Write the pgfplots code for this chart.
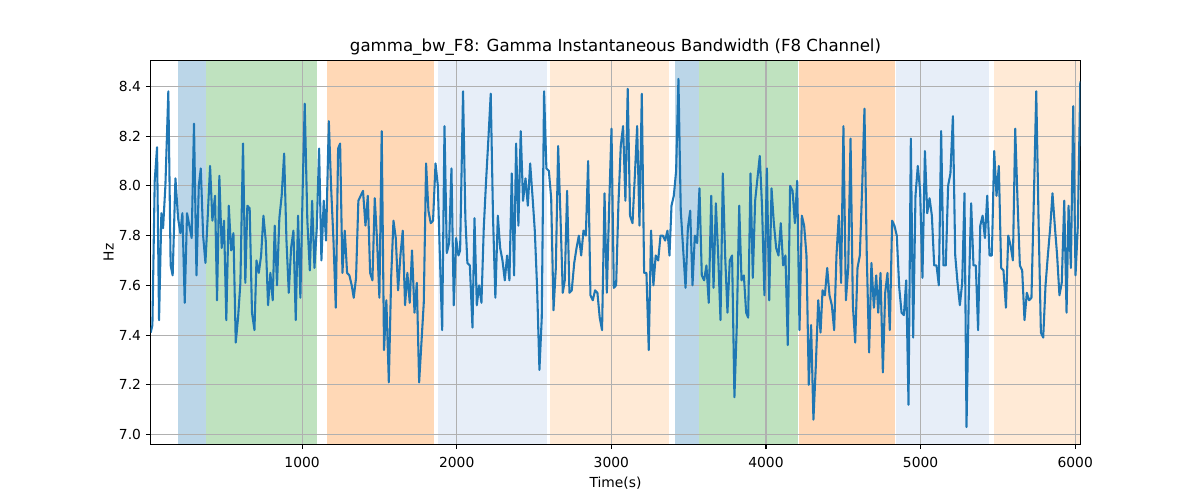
\documentclass[border=0pt]{standalone}
\usepackage{pgfplots}
\pgfplotsset{compat=1.18}
\usepackage{fontspec}
\setmainfont{DejaVu Sans}
\definecolor{cblue}{HTML}{1F77B4}
\definecolor{cgreen}{HTML}{2CA02C}
\definecolor{corange}{HTML}{FF7F0E}
\definecolor{clblue}{HTML}{AEC7E8}
\definecolor{clorange}{HTML}{FFBB78}
\definecolor{gridgray}{HTML}{B0B0B0}
\pgfplotsset{span/.style={draw=none, fill opacity=0.3, forget plot, on layer=axis background}}
\begin{document}
\begin{tikzpicture}
\path (0,0) rectangle (12in,5in);
\begin{axis}[
  set layers,
  at={(1.507in,0.557in)}, anchor=south west,
  width=9.296in, height=3.836in, scale only axis,
  xmin=21, xmax=6033, ymin=6.961, ymax=8.503,
  xtick={1000,2000,3000,4000,5000,6000},
  ytick={7.0,7.2,7.4,7.6,7.8,8.0,8.2,8.4},
  yticklabel style={/pgf/number format/.cd,fixed,fixed zerofill,precision=1},
  xticklabel style={/pgf/number format/1000 sep={}, yshift=-2pt},
  /pgf/number format/assume math mode=true,
  tick label style={font=\fontsize{10}{12}\selectfont, text=black},
  label style={font=\fontsize{10}{12}\selectfont},
  grid=major,
  major grid style={gridgray, line width=0.8pt},
  axis line style={black, line width=0.8pt},
  tick style={black, line width=0.8pt},
  tick align=outside, major tick length=3.5pt,
  xtick pos=bottom, ytick pos=left,
  title={gamma\_bw\_F8: Gamma Instantaneous Bandwidth (F8 Channel)},
  title style={font=\fontsize{12}{14}\selectfont, yshift=-5.5pt},
  xlabel={Time(s)}, ylabel={Hz},
  xlabel style={yshift=0pt},
  ylabel style={yshift=-3pt},
]
\addplot[span, fill=cblue] coordinates {(200,6.961) (200,8.503) (377,8.503) (377,6.961)};
\addplot[span, fill=cgreen] coordinates {(377,6.961) (377,8.503) (1095,8.503) (1095,6.961)};
\addplot[span, fill=corange] coordinates {(1162,6.961) (1162,8.503) (1855,8.503) (1855,6.961)};
\addplot[span, fill=clblue] coordinates {(1878,6.961) (1878,8.503) (2583,8.503) (2583,6.961)};
\addplot[span, fill=clorange] coordinates {(2605,6.961) (2605,8.503) (3373,8.503) (3373,6.961)};
\addplot[span, fill=cblue] coordinates {(3409,6.961) (3409,8.503) (3569,8.503) (3569,6.961)};
\addplot[span, fill=cgreen] coordinates {(3569,6.961) (3569,8.503) (4209,8.503) (4209,6.961)};
\addplot[span, fill=corange] coordinates {(4214,6.961) (4214,8.503) (4835,8.503) (4835,6.961)};
\addplot[span, fill=clblue] coordinates {(4841,6.961) (4841,8.503) (5443,8.503) (5443,6.961)};
\addplot[span, fill=clorange] coordinates {(5477,6.961) (5477,8.503) (6033,8.503) (6033,6.961)};
\addplot[cblue, line width=1.5pt, line join=round, no marks] coordinates {
(21,7.41)(32,7.44)(47,8.02)(62,8.155)(75,7.46)(90,7.89)(101,7.83)(116,8.0)(135,8.38)(150,7.68)(163,7.64)(181,8.03)(198,7.87)(213,7.81)(226,7.89)(241,7.53)(256,7.89)(271,7.84)(286,7.79)(301,8.25)(317,7.64)(332,8.0)(345,8.07)(360,7.8)(375,7.69)(390,7.88)(405,8.08)(420,7.86)(437,7.96)(450,7.54)(465,8.04)(480,7.75)(495,7.86)(510,7.46)(526,7.92)(541,7.74)(556,7.81)(571,7.37)(586,7.47)(601,7.61)(618,8.17)(633,7.61)(646,7.92)(661,7.91)(676,7.49)
(692,7.42)(705,7.70)(720,7.65)(735,7.72)(750,7.88)(765,7.78)(780,7.52)(795,7.65)(810,7.54)(823,7.84)(838,7.60)(853,7.87)(868,7.96)(884,8.13)(899,7.78)(914,7.57)(929,7.75)(944,7.82)(959,7.46)(974,7.88)(989,7.55)(1004,7.99)(1017,8.33)(1034,7.86)(1050,7.66)(1065,7.94)(1080,7.67)(1095,7.83)(1110,8.15)(1125,7.70)(1140,7.94)(1155,7.78)(1173,8.26)(1188,7.99)(1203,7.78)(1218,7.51)(1233,8.15)(1246,8.17)(1261,7.65)(1276,7.82)(1291,7.65)(1306,7.64)(1321,7.60)(1334,7.55)(1349,7.63)
(1364,7.94)(1379,7.96)(1394,7.98)(1410,7.84)(1425,7.96)(1440,7.65)(1455,7.62)(1470,7.95)(1485,7.78)(1500,7.55)(1515,8.22)(1530,7.34)(1545,7.54)(1561,7.21)(1576,7.63)(1591,7.86)(1606,7.79)(1621,7.58)(1636,7.72)(1651,7.82)(1666,7.52)(1681,7.65)(1696,7.53)(1711,7.74)(1727,7.49)(1742,7.61)(1757,7.21)(1772,7.37)(1787,7.53)(1802,8.09)(1817,7.90)(1832,7.85)(1847,7.86)(1863,8.09)(1878,8.00)(1891,7.72)(1906,7.42)(1921,8.24)(1936,7.73)(1951,7.77)(1966,8.07)(1981,7.52)(1996,7.79)(2011,7.72)(2022,7.74)
(2041,8.38)(2056,7.87)(2069,7.69)(2085,7.68)(2102,7.43)(2115,7.87)(2130,7.52)(2145,7.60)(2160,7.53)(2175,7.83)(2190,8.02)(2205,8.19)(2220,8.37)(2235,7.87)(2250,7.55)(2266,7.88)(2281,7.75)(2296,7.70)(2311,7.62)(2326,7.72)(2341,7.62)(2356,8.05)(2371,7.64)(2384,8.17)(2399,7.84)(2414,8.22)(2429,7.94)(2445,8.03)(2460,7.92)(2475,8.09)(2490,7.96)(2505,7.82)(2520,7.59)(2535,7.26)(2550,7.47)(2565,8.38)(2580,8.07)(2596,8.06)(2611,7.95)(2626,7.50)(2641,7.67)(2656,8.16)(2671,7.88)(2686,7.57)(2699,7.62)
(2714,7.98)(2729,7.57)(2744,7.58)(2760,7.69)(2775,7.75)(2790,7.80)(2805,7.72)(2820,7.82)(2835,7.80)(2850,8.10)(2865,7.56)(2880,7.54)(2895,7.58)(2910,7.57)(2925,7.47)(2940,7.42)(2956,7.97)(2971,7.57)(2986,7.92)(3001,8.23)(3016,7.59)(3031,7.60)(3046,7.93)(3061,8.16)(3076,8.24)(3091,7.94)(3106,8.39)(3121,7.88)(3137,7.85)(3152,8.04)(3167,8.24)(3182,7.84)(3197,8.37)(3212,7.65)(3227,7.65)(3242,7.34)(3257,7.82)(3272,7.60)(3287,7.72)(3303,7.70)(3318,7.80)(3333,7.80)(3348,7.78)(3363,7.82)
(3376,7.72)(3389,7.92)(3404,7.96)(3419,8.06)(3434,8.43)(3449,7.90)(3464,7.75)(3480,7.59)(3495,7.83)(3510,7.90)(3525,7.60)(3540,7.80)(3555,7.77)(3570,7.99)(3585,7.64)(3600,7.62)(3615,7.68)(3630,7.53)(3646,7.96)(3661,7.59)(3676,7.93)(3691,7.72)(3706,7.46)(3721,8.05)(3736,7.72)(3751,7.49)(3766,7.70)(3781,7.72)(3796,7.15)(3811,7.43)(3827,7.92)(3842,7.62)(3857,7.64)(3872,7.49)(3885,7.47)(3900,8.05)(3915,7.63)(3930,7.94)(3945,8.03)(3960,8.12)(3975,7.91)(3990,7.56)(4006,8.07)(4021,7.54)(4036,7.99)
(4051,7.85)(4066,7.75)(4081,7.72)(4096,7.85)(4111,7.68)(4126,7.72)(4141,7.36)(4156,8.00)(4172,7.98)(4187,7.85)(4202,8.02)(4217,7.42)(4232,7.88)(4247,7.84)(4262,7.72)(4277,7.20)(4292,7.44)(4307,7.06)(4322,7.27)(4338,7.54)(4353,7.41)(4366,7.58)(4381,7.56)(4396,7.67)(4411,7.56)(4426,7.52)(4441,7.42)(4456,7.72)(4471,7.88)(4486,7.61)(4501,8.24)(4517,7.54)(4532,7.67)(4547,8.19)(4562,7.52)(4577,7.37)(4592,7.67)(4607,7.72)(4622,7.99)(4637,8.31)(4652,7.72)(4667,7.33)(4682,7.69)(4698,7.51)(4713,7.64)
(4726,7.49)(4741,7.65)(4756,7.25)(4771,7.57)(4786,7.65)(4801,7.42)(4816,7.86)(4831,7.84)(4846,7.80)(4862,7.59)(4877,7.49)(4892,7.48)(4907,7.62)(4922,7.12)(4937,8.19)(4952,7.39)(4967,7.96)(4982,8.08)(4997,7.98)(5012,7.63)(5028,8.14)(5043,7.89)(5058,7.95)(5073,7.88)(5088,7.68)(5103,7.68)(5118,7.60)(5133,8.22)(5148,7.68)(5163,7.68)(5178,8.00)(5193,8.05)(5209,8.28)(5224,7.72)(5239,7.61)(5254,7.52)(5269,7.61)(5284,7.97)(5297,7.03)(5312,7.57)(5327,7.93)(5342,7.68)(5357,7.68)(5372,7.42)(5386,7.84)
(5401,7.88)(5416,7.79)(5431,7.96)(5446,7.72)(5461,7.72)(5476,8.14)(5491,7.96)(5506,8.08)(5521,7.67)(5536,7.66)(5552,7.51)(5567,7.80)(5582,7.76)(5597,7.70)(5612,8.23)(5627,7.94)(5642,7.68)(5657,7.66)(5672,7.46)(5687,7.57)(5702,7.54)(5717,7.55)(5733,7.96)(5748,8.38)(5763,7.86)(5778,7.41)(5793,7.39)(5808,7.60)(5823,7.72)(5838,7.83)(5853,7.97)(5868,7.84)(5883,7.72)(5898,7.56)(5913,7.61)(5929,7.94)(5944,7.49)(5957,7.92)(5972,7.67)(5987,8.32)(6002,7.64)(6017,7.84)(6033,8.42)
};
\end{axis}
\end{tikzpicture}
\end{document}
